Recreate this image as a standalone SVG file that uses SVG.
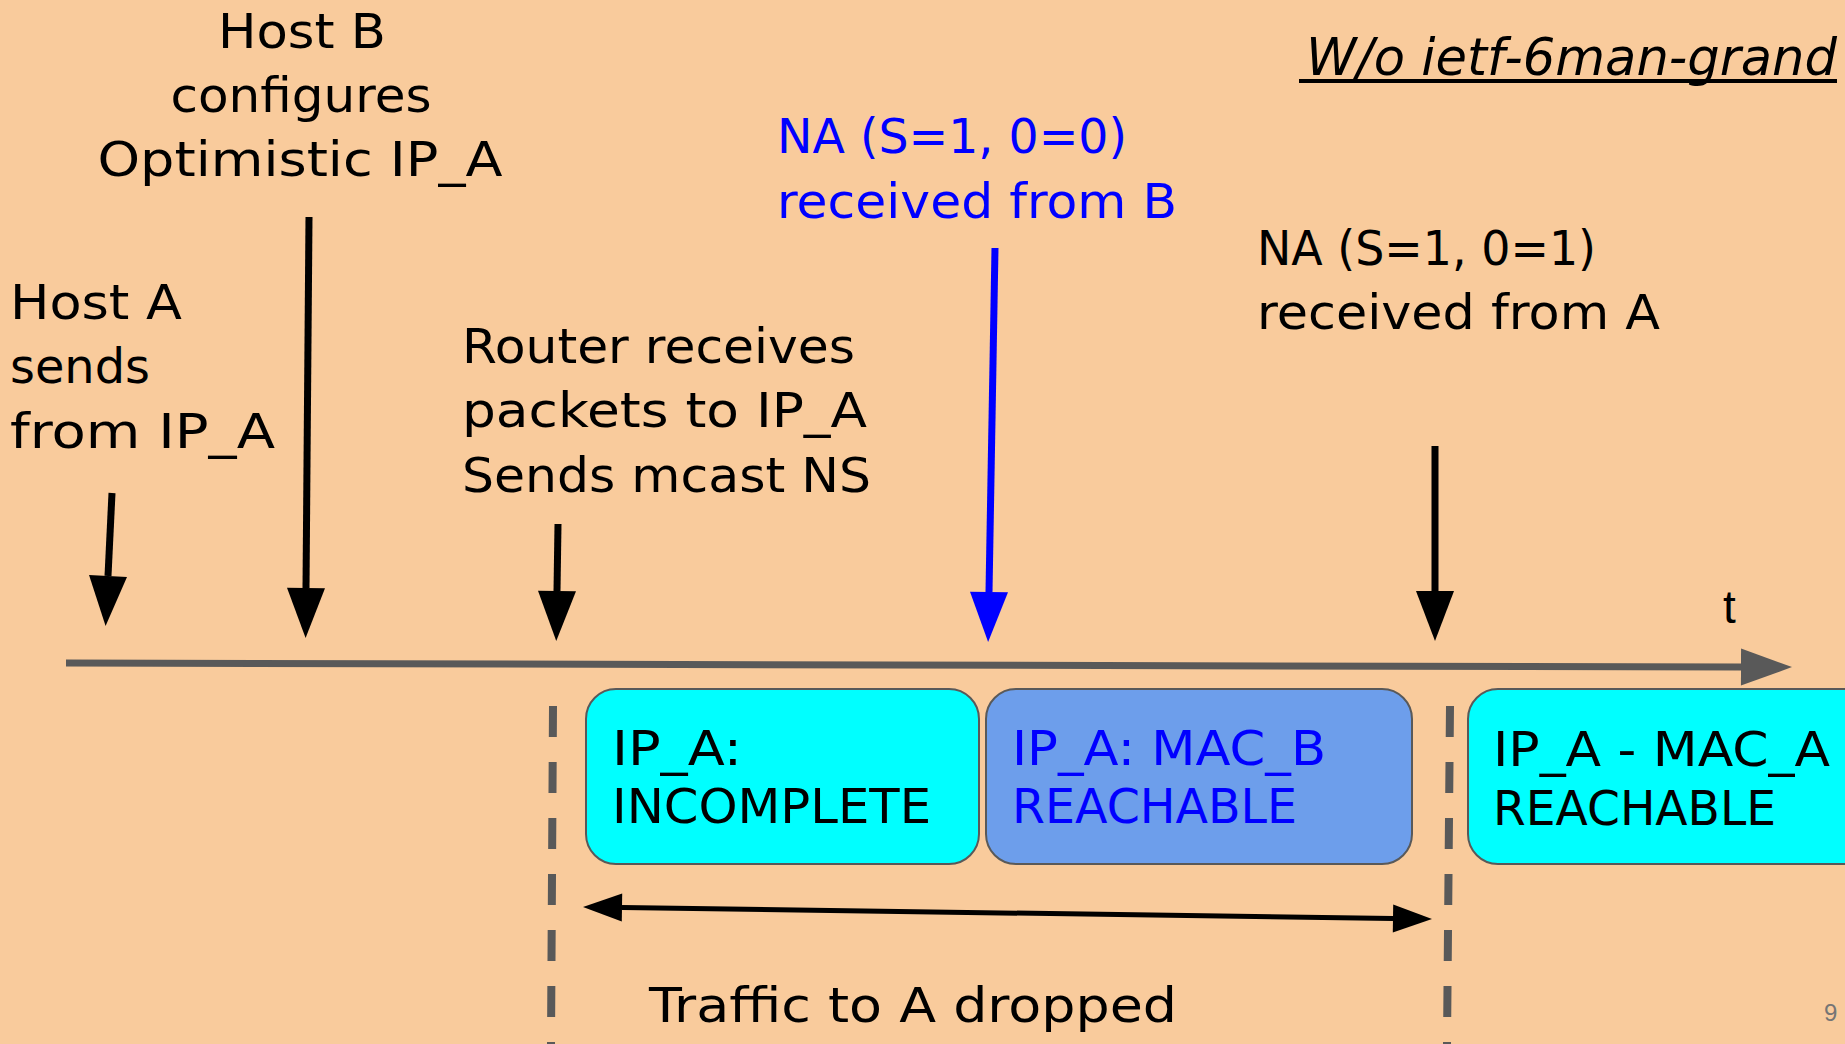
<svg xmlns="http://www.w3.org/2000/svg" width="1845" height="1044" viewBox="0 0 1845 1044">
  <defs>
    <style>
      .lbl { font-family: "DejaVu Sans", sans-serif; font-size: 48px; fill: #000000; }
      .blue { fill: #0000ff; }
      .title { font-family: "DejaVu Sans", sans-serif; font-size: 52px; font-style: italic; fill: #000000; }
      .axislbl { font-family: "Liberation Sans", Arial, sans-serif; font-size: 46px; fill: #000000; }
      .pg { font-family: "Liberation Sans", Arial, sans-serif; font-size: 24px; fill: #757575; }
      .state { stroke: #595959; stroke-width: 2; }
      .ev { fill: none; stroke: #000000; stroke-width: 7; }
      .ev-blue { fill: none; stroke: #0000ff; stroke-width: 7; }
      .axis { fill: none; stroke: #595959; stroke-width: 7; }
      .span { fill: none; stroke: #000000; stroke-width: 5; }
      .guide { fill: none; stroke: #595959; stroke-width: 8; stroke-dasharray: 31 25; }
    </style>
    <marker id="head-black" markerUnits="userSpaceOnUse" markerWidth="52" markerHeight="40" refX="0" refY="19" orient="auto" overflow="visible">
      <path d="M0,0 L50,19 L0,38 z" fill="#000000"/>
    </marker>
    <marker id="head-blue" markerUnits="userSpaceOnUse" markerWidth="52" markerHeight="40" refX="0" refY="19" orient="auto" overflow="visible">
      <path d="M0,0 L50,19 L0,38 z" fill="#0000ff"/>
    </marker>
    <marker id="head-axis" markerUnits="userSpaceOnUse" markerWidth="53" markerHeight="40" refX="0" refY="18.5" orient="auto" overflow="visible">
      <path d="M0,0 L51,18.5 L0,37 z" fill="#595959"/>
    </marker>
    <marker id="head-span" markerUnits="userSpaceOnUse" markerWidth="41" markerHeight="30" refX="0" refY="14" orient="auto-start-reverse" overflow="visible">
      <path d="M0,0 L39,14 L0,28 z" fill="#000000"/>
    </marker>
  </defs>

  <!-- background -->
  <rect x="0" y="0" width="1845" height="1044" fill="#f9cb9c"/>

  <!-- heading -->
  <g id="heading">
    <text class="title" x="1306" y="75" textLength="531" lengthAdjust="spacingAndGlyphs">W/o ietf-6man-grand</text>
    <line x1="1299" y1="81" x2="1837" y2="81" stroke="#000000" stroke-width="4"/>
  </g>

  <!-- event labels -->
  <g id="event-hostA">
    <text class="lbl" x="10" y="319" textLength="172" lengthAdjust="spacingAndGlyphs">Host A</text>
    <text class="lbl" x="10" y="383" textLength="140" lengthAdjust="spacingAndGlyphs">sends</text>
    <text class="lbl" x="10" y="448" textLength="265" lengthAdjust="spacingAndGlyphs">from IP_A</text>
  </g>

  <g id="event-hostB">
    <text class="lbl" x="302" y="48" text-anchor="middle" textLength="168" lengthAdjust="spacingAndGlyphs">Host B</text>
    <text class="lbl" x="301" y="112" text-anchor="middle" textLength="261" lengthAdjust="spacingAndGlyphs">configures</text>
    <text class="lbl" x="300" y="176" text-anchor="middle" textLength="405" lengthAdjust="spacingAndGlyphs">Optimistic IP_A</text>
  </g>

  <g id="event-router">
    <text class="lbl" x="462" y="363" textLength="393" lengthAdjust="spacingAndGlyphs">Router receives</text>
    <text class="lbl" x="462" y="427" textLength="405" lengthAdjust="spacingAndGlyphs">packets to IP_A</text>
    <text class="lbl" x="462" y="492" textLength="409" lengthAdjust="spacingAndGlyphs">Sends mcast NS</text>
  </g>

  <g id="event-naB">
    <text class="lbl blue" x="777" y="153" textLength="350" lengthAdjust="spacingAndGlyphs">NA (S=1, 0=0)</text>
    <text class="lbl blue" x="777" y="218" textLength="400" lengthAdjust="spacingAndGlyphs">received from B</text>
  </g>

  <g id="event-naA">
    <text class="lbl" x="1257" y="265" textLength="339" lengthAdjust="spacingAndGlyphs">NA (S=1, 0=1)</text>
    <text class="lbl" x="1257" y="329" textLength="403" lengthAdjust="spacingAndGlyphs">received from A</text>
  </g>

  <!-- neighbour cache states -->
  <g id="state-incomplete">
    <rect class="state" x="586" y="689" width="393" height="175" rx="30" ry="30" fill="#00ffff"/>
    <text class="lbl" x="612" y="765" textLength="130" lengthAdjust="spacingAndGlyphs">IP_A:</text>
    <text class="lbl" x="612" y="823" textLength="319" lengthAdjust="spacingAndGlyphs">INCOMPLETE</text>
  </g>

  <g id="state-macB">
    <rect class="state" x="986" y="689" width="426" height="175" rx="30" ry="30" fill="#6d9eeb"/>
    <text class="lbl blue" x="1012" y="765" textLength="314" lengthAdjust="spacingAndGlyphs">IP_A: MAC_B</text>
    <text class="lbl blue" x="1012" y="823" textLength="285" lengthAdjust="spacingAndGlyphs">REACHABLE</text>
  </g>

  <g id="state-macA">
    <rect class="state" x="1468" y="689" width="420" height="175" rx="30" ry="30" fill="#00ffff"/>
    <text class="lbl" x="1493" y="766" textLength="337" lengthAdjust="spacingAndGlyphs">IP_A - MAC_A</text>
    <text class="lbl" x="1493" y="825" textLength="283" lengthAdjust="spacingAndGlyphs">REACHABLE</text>
  </g>

  <g id="drop-label">
    <text class="lbl" x="649" y="1022" textLength="528" lengthAdjust="spacingAndGlyphs">Traffic to A dropped</text>
  </g>

  <g id="axis-label">
    <text class="axislbl" x="1723" y="623">t</text>
  </g>

  <g id="page-number">
    <text class="pg" x="1824" y="1021">9</text>
  </g>

  <!-- connectors: time axis, event arrows, window markers -->
  <g id="connectors">
    <path class="axis" d="M66,663 L1741,667" marker-end="url(#head-axis)"/>

    <path class="ev" d="M112,493 L108,576" marker-end="url(#head-black)"/>
    <path class="ev" d="M309,217 L306,588" marker-end="url(#head-black)"/>
    <path class="ev" d="M558,524 L557,591" marker-end="url(#head-black)"/>
    <path class="ev-blue" d="M995,248 L989,592" marker-end="url(#head-blue)"/>
    <path class="ev" d="M1435,446 L1435,591" marker-end="url(#head-black)"/>

    <path class="guide" d="M553,706 L551,1044"/>
    <path class="guide" d="M1450,706 L1447,1044"/>

    <path class="span" d="M622,907.6 L1393,918.4" marker-start="url(#head-span)" marker-end="url(#head-span)"/>
  </g>
</svg>
